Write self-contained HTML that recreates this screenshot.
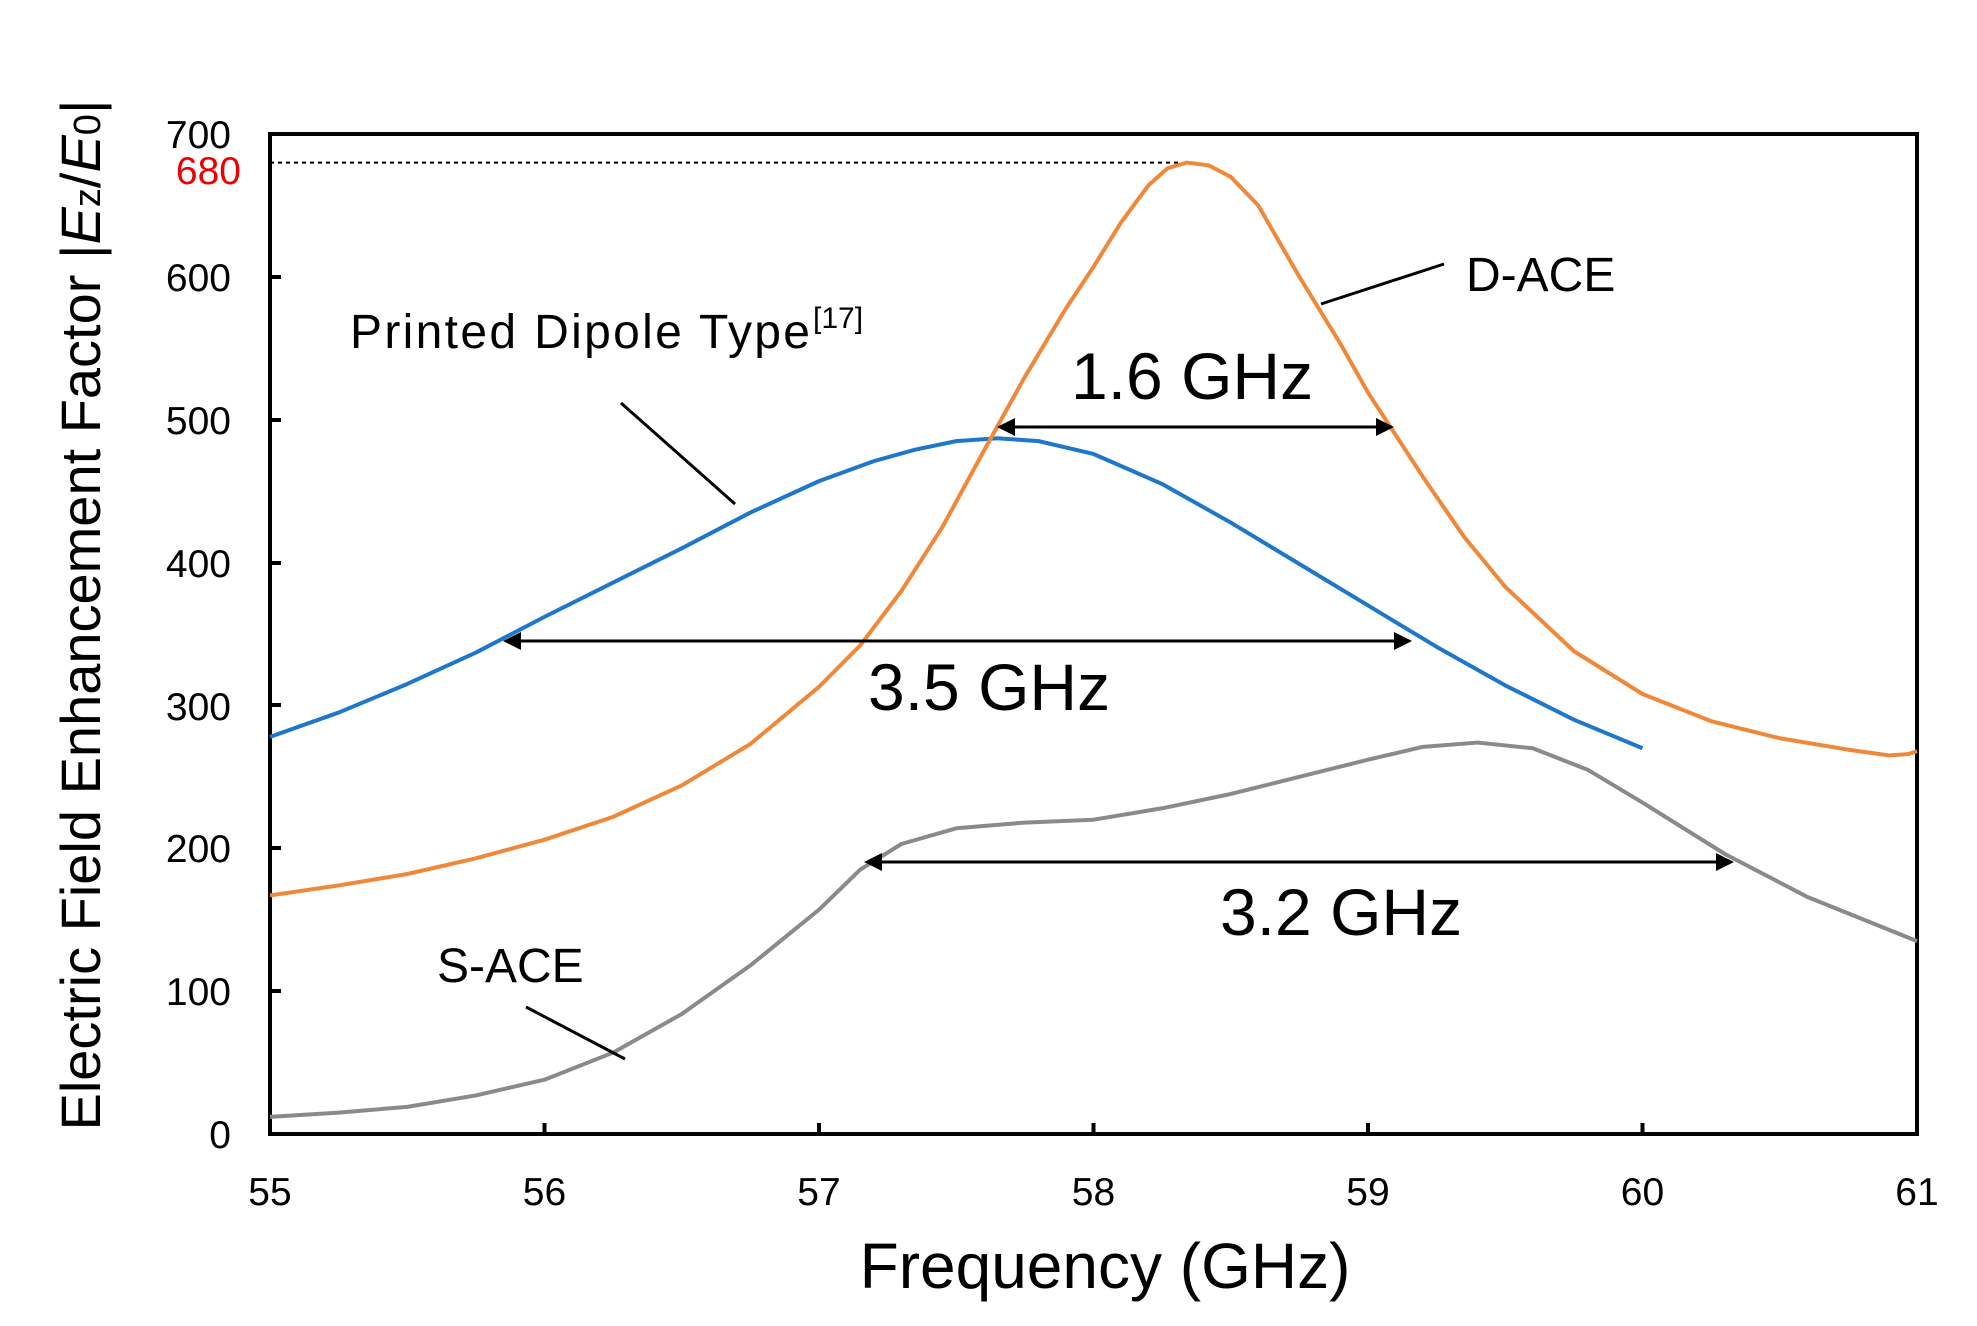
<!DOCTYPE html>
<html><head><meta charset="utf-8"><style>html,body{margin:0;padding:0;background:#fff}svg{display:block}text{font-family:"Liberation Sans",sans-serif}</style></head>
<body>
<svg width="1977" height="1326" viewBox="0 0 1977 1326" xmlns="http://www.w3.org/2000/svg">
<rect width="1977" height="1326" fill="#fff"/>
<line x1="270" y1="162.6" x2="1180" y2="162.6" stroke="#000" stroke-width="2" stroke-dasharray="4,4"/>
<rect x="270" y="134" width="1647" height="1000" fill="none" stroke="#000" stroke-width="4"/>
<g stroke="#000" stroke-width="4">
<line x1="270" y1="277" x2="281" y2="277"/><line x1="270" y1="420" x2="281" y2="420"/><line x1="270" y1="563" x2="281" y2="563"/><line x1="270" y1="705" x2="281" y2="705"/><line x1="270" y1="848" x2="281" y2="848"/><line x1="270" y1="991" x2="281" y2="991"/>
<line x1="544.5" y1="1134" x2="544.5" y2="1123"/><line x1="819" y1="1134" x2="819" y2="1123"/><line x1="1093.5" y1="1134" x2="1093.5" y2="1123"/><line x1="1368" y1="1134" x2="1368" y2="1123"/><line x1="1642.5" y1="1134" x2="1642.5" y2="1123"/>
</g>
<g font-size="39" text-anchor="end" fill="#000">
<text x="231" y="148">700</text><text x="231" y="291">600</text><text x="231" y="434">500</text><text x="231" y="577">400</text><text x="231" y="720">300</text><text x="231" y="862">200</text><text x="231" y="1005">100</text><text x="231" y="1148">0</text>
<text x="241" y="184" fill="#e00">680</text>
</g>
<g font-size="39" text-anchor="middle" fill="#000">
<text x="270" y="1205">55</text><text x="544.5" y="1205">56</text><text x="819" y="1205">57</text><text x="1093.5" y="1205">58</text><text x="1368" y="1205">59</text><text x="1642.5" y="1205">60</text><text x="1917" y="1205">61</text>
</g>
<text x="1105" y="1288" font-size="64" text-anchor="middle">Frequency (GHz)</text>
<text transform="translate(100,615) rotate(-90)" font-size="56" text-anchor="middle">Electric Field Enhancement Factor |<tspan font-style="italic">E</tspan><tspan font-size="38">z</tspan>/<tspan font-style="italic">E</tspan><tspan font-size="38">0</tspan>|</text>
<g transform="translate(270,1134) scale(274.5,-1.4286)" fill="none" stroke-width="4" stroke-linejoin="round">
<polyline vector-effect="non-scaling-stroke" stroke="#1f77c9" points="0,278 0.25,295 0.5,315 0.75,337 1,362 1.25,386 1.5,410 1.75,435 2,457 2.2,471 2.35,479 2.5,485 2.65,487 2.8,485 3,476 3.25,455 3.5,428 3.75,399 4,370 4.25,341 4.5,314 4.75,290 5,270"/>
<polyline vector-effect="non-scaling-stroke" stroke="#f0883a" points="0,167 0.25,174 0.5,182 0.75,193 1,206 1.25,222 1.5,244 1.75,273 2,313 2.15,342 2.3,380 2.45,425 2.6,478 2.75,530 2.9,578 3.0,607 3.1,638 3.2,664 3.27,676 3.34,680 3.42,678 3.5,670 3.6,650 3.75,600 3.9,553 4.0,519 4.2,460 4.35,418 4.5,383 4.75,338 5,308 5.25,289 5.5,277 5.75,269 5.9,265 5.97,266 6,268"/>
<polyline vector-effect="non-scaling-stroke" stroke="#8a8a8a" points="0,12 0.25,15 0.5,19 0.75,27 1,38 1.25,57 1.5,84 1.75,118 2,157 2.15,185 2.3,203 2.5,214 2.75,218 3,220 3.25,228 3.5,238 3.75,250 4,262 4.2,271 4.4,274 4.6,270 4.8,255 5,232 5.3,196 5.6,166 6,135"/>
</g>
<g stroke="#000" stroke-width="3" fill="#000">
<line x1="1012" y1="427" x2="1380" y2="427"/>
<line x1="518" y1="641" x2="1400" y2="641"/>
<line x1="880" y1="862" x2="1720" y2="862"/>
</g>
<g fill="#000">
<polygon points="997,427 1015,418 1015,436"/><polygon points="1394,427 1376,418 1376,436"/>
<polygon points="503,641 521,632 521,650"/><polygon points="1412,641 1394,632 1394,650"/>
<polygon points="864,862 882,853 882,871"/><polygon points="1734,862 1716,853 1716,871"/>
</g>
<g stroke="#000" stroke-width="3">
<line x1="1444" y1="264" x2="1321" y2="304"/>
<line x1="621" y1="403" x2="735" y2="504"/>
<line x1="526" y1="1007" x2="625" y2="1059"/>
</g>
<g fill="#000">
<text x="1071" y="399" font-size="66">1.6 GHz</text>
<text x="868" y="710" font-size="66">3.5 GHz</text>
<text x="1220" y="935" font-size="66">3.2 GHz</text>
<text x="1466" y="291" font-size="48">D-ACE</text>
<text x="437" y="982" font-size="48">S-ACE</text>
<text x="350" y="348" font-size="48" textLength="460">Printed Dipole Type</text>
<text x="813" y="328" font-size="30">[17]</text>
</g>
</svg>
</body></html>
